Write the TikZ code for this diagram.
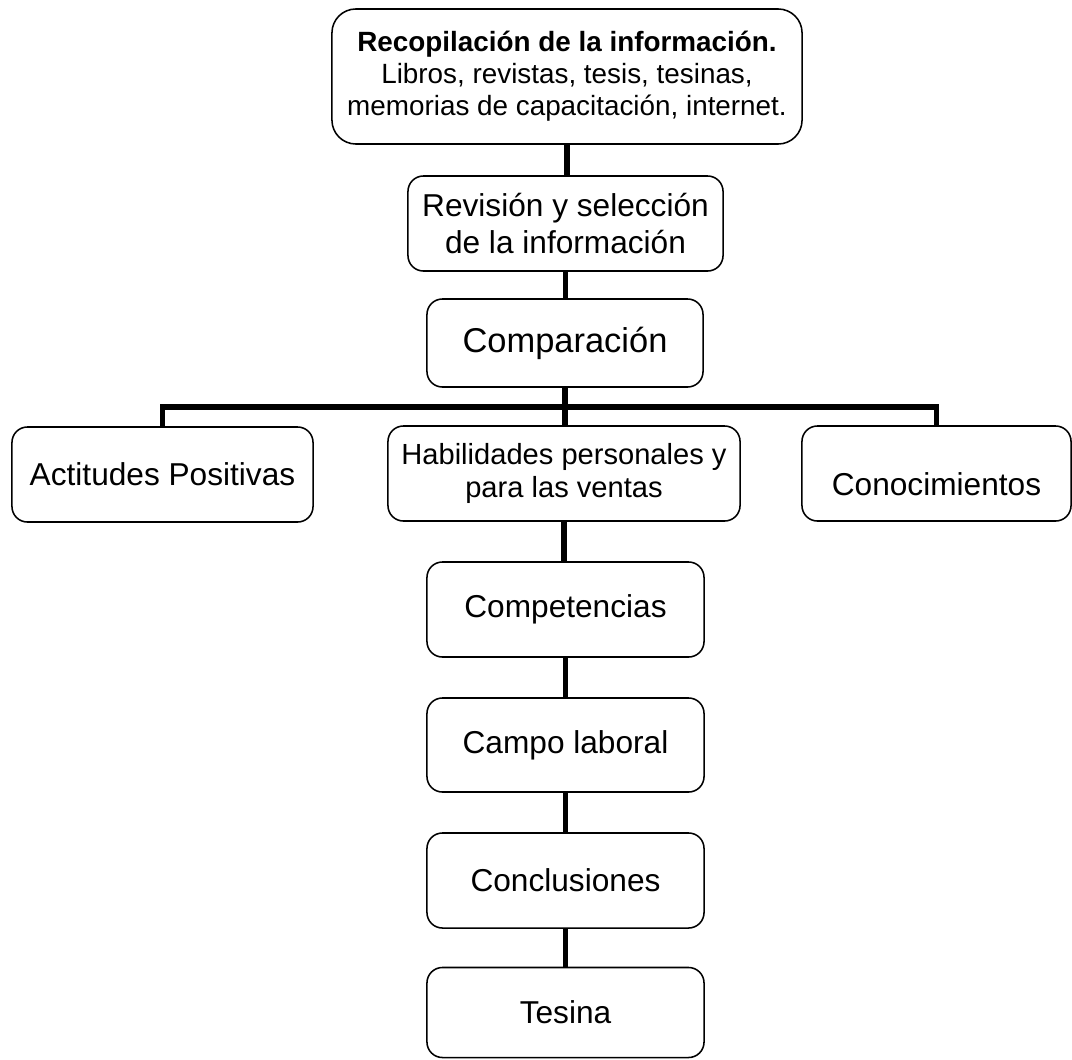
\documentclass[tikz,border=0pt]{standalone}
\usepackage{fontspec}
\setmainfont{Liberation Sans}
\usepackage{tikz}
\usetikzlibrary{positioning, calc}

\begin{document}
\begin{tikzpicture}[x=0.025cm, y=-0.025cm,
		box/.style={draw, line width=1.1pt, rounded corners=11pt, align=center, inner sep=2pt, font=\fontsize{22.5}{26}\selectfont, minimum width=6.925cm, minimum height=2.375cm},
		link/.style={line width=3.6pt}]
	\useasboundingbox (0,0) rectangle (1072,1059);
	% cabecera
	\node[box, minimum width=11.75cm, minimum height=3.375cm, rounded corners=17pt, font=\fontsize{19.8}{22.8}\selectfont] (rec) at (567,76.5) {\textbf{Recopilación de la información.}\\Libros, revistas, tesis, tesinas,\\memorias de capacitación, internet.};
	\node[box, minimum width=7.875cm, font=\fontsize{22.5}{26.3}\selectfont] (rev) at (565.5,223.5) {Revisión y selección\\de la información};
	\node[box, minimum width=6.9cm, minimum height=2.2cm, font=\fontsize{24.5}{28}\selectfont] (comp) at (565,343) {Comparación};
	% tres ramas
	\node[box, minimum width=7.525cm] (act) at (162.5,474.5) {Actitudes Positivas};
	\node[box, minimum width=8.8cm, font=\fontsize{20.7}{23}\selectfont] (hab) at (564,473.5) {Habilidades personales y\\para las ventas};
	\node[box, minimum width=6.725cm, text height=30.6pt, text depth=0pt] (con) at (936.5,473.5) {Conocimientos};
	% columna inferior
	\foreach \name/\y/\h/\txt in {compet/609.5/2.375/Competencias, campo/745/2.35/Campo laboral, concl/880.5/2.375/Conclusiones, tesina/1012.5/2.25/Tesina} {
		\node[box, minimum height=\h cm] (\name) at (565.5,\y) {\txt};
	}
	% conectores
	\coordinate (split) at (566,407);
	\draw[link] (act.north) |- (split) -| (con.north);
	\draw[link] (comp.south) -- (comp.south |- hab.north);
	\foreach \a/\b in {rec/rev, rev/comp, hab/compet, compet/campo, campo/concl, concl/tesina} {
		\draw[link] (\a.south) -- (\a.south |- \b.north);
	}
\end{tikzpicture}
\end{document}
